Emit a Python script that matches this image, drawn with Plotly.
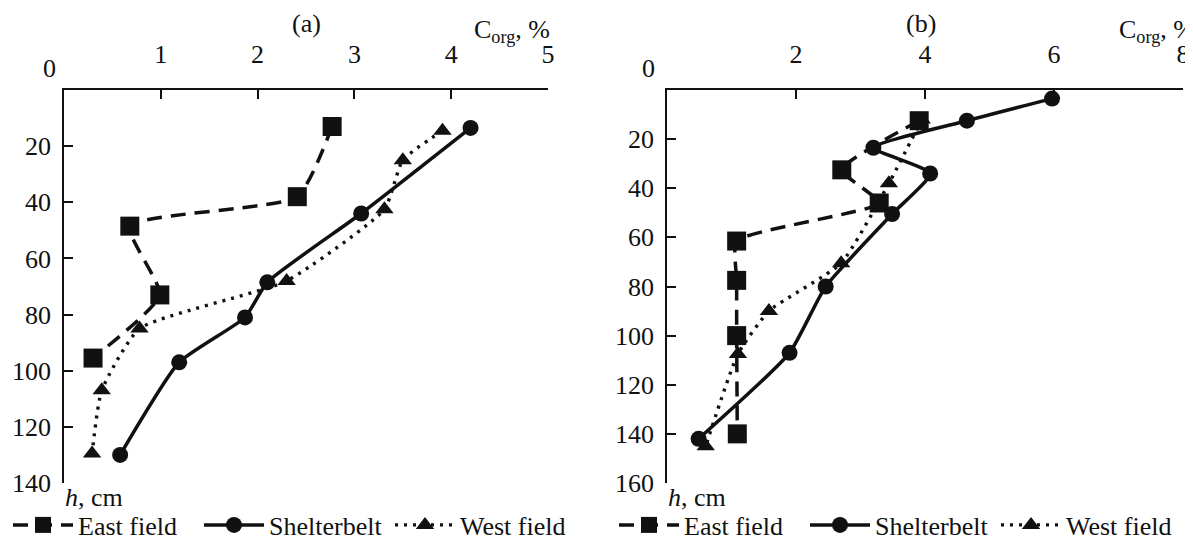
import plotly.graph_objects as go

# ---------------- data: panel (a) ----------------
a_east_x = [2.77, 2.41, 0.68, 0.99, 0.30]
a_east_y = [13, 38, 48.5, 73, 95.5]
a_shelter_x = [4.20, 3.07, 2.10, 1.87, 1.19, 0.58]
a_shelter_y = [13.5, 44, 68.5, 81, 97, 130]
a_west_x = [3.91, 3.50, 3.31, 2.30, 0.78, 0.39, 0.29]
a_west_y = [14.5, 25, 42.5, 68, 85, 107, 129.5]

# ---------------- data: panel (b) ----------------
b_east_x = [3.91, 2.71, 3.29, 1.08, 1.08, 1.08, 1.09]
b_east_y = [12.5, 32.5, 46, 61.5, 77.5, 100, 140]
b_shelter_x = [5.97, 4.65, 3.20, 4.08, 3.49, 2.46, 1.90, 0.49]
b_shelter_y = [3.5, 12.5, 23.5, 34, 50.5, 80, 107, 142]
b_west_x = [3.95, 3.44, 2.70, 1.58, 1.10, 0.60]
b_west_y = [12, 38, 70.5, 90, 107.5, 145]

a_xticks = [1, 2, 3, 4, 5]
b_xticks = [2, 4, 6, 8]
a_yticks = [20, 40, 60, 80, 100, 120, 140]
b_yticks = [20, 40, 60, 80, 100, 120, 140, 160]

names = ["East field", "Shelterbelt", "West field"]

INK = "#111111"
FONT = "Liberation Serif, Times New Roman, serif"
FS = 26
W, H = 1193, 539

styles = [
    dict(line=dict(color=INK, width=3.5, dash="15px,9px"),
         marker=dict(symbol="square", size=19, color=INK)),
    dict(line=dict(color=INK, width=3.5, dash="solid"),
         marker=dict(symbol="circle", size=16, color=INK)),
    dict(line=dict(color=INK, width=3.4, dash="3px,6px"),
         marker=dict(symbol="triangle-up", size=16, color=INK)),
]

fig = go.Figure()

panels = [
    ([a_east_x, a_shelter_x, a_west_x], [a_east_y, a_shelter_y, a_west_y], "x", "y", "legend"),
    ([b_east_x, b_shelter_x, b_west_x], [b_east_y, b_shelter_y, b_west_y], "x2", "y2", "legend2"),
]
for xs, ys, xa, ya, lg in panels:
    for i in range(3):
        fig.add_trace(go.Scatter(
            x=xs[i], y=ys[i], mode="lines+markers", name=names[i],
            xaxis=xa, yaxis=ya, legend=lg,
            line=dict(styles[i]["line"], shape="spline", smoothing=0.5),
            marker=styles[i]["marker"],
        ))

def px_x(p):
    return p / W

def px_y(p):
    return (H - p) / H

ydom = [px_y(475), px_y(82)]

axis_common = dict(
    showgrid=False, zeroline=False, showline=True, linecolor=INK, linewidth=1.5,
    ticks="inside", ticklen=9, tickwidth=1.5, tickcolor=INK,
    tickfont=dict(family=FONT, size=FS, color=INK),
)

leg_common = dict(orientation="h", xanchor="left", y=px_y(517), yanchor="middle",
                  font=dict(family=FONT, size=FS, color=INK), entrywidth=116, itemwidth=60,
                  bgcolor="rgba(0,0,0,0)", tracegroupgap=0)

fig.update_layout(
    width=W, height=H,
    margin=dict(l=0, r=0, t=0, b=0, autoexpand=False),
    paper_bgcolor="white", plot_bgcolor="white",
    font=dict(family=FONT, size=FS, color=INK),
    xaxis=dict(axis_common, domain=[px_x(56), px_x(540)], range=[0, 5], side="top",
               anchor="y", tickvals=a_xticks, ticklabelstandoff=15),
    yaxis=dict(axis_common, domain=ydom, range=[140, 0], anchor="x",
               tickvals=a_yticks, ticklabelstandoff=6),
    xaxis2=dict(axis_common, domain=[px_x(659), px_x(1175)], range=[0, 8], side="top",
                anchor="y2", tickvals=b_xticks, ticklabelstandoff=15),
    yaxis2=dict(axis_common, domain=ydom, range=[160, 0], anchor="x2",
                tickvals=b_yticks, ticklabelstandoff=6),
    legend=dict(leg_common, x=px_x(0)),
    legend2=dict(leg_common, x=px_x(606)),
    showlegend=True,
)

ann = []
for title, tx, cx, zx, hx in [("(a)", 298, 544, 41, 55), ("(b)", 913, 1189, 640, 658)]:
    ann.append(dict(text=title, x=px_x(tx), y=px_y(16), xref="paper", yref="paper",
                    showarrow=False, xanchor="center", yanchor="middle",
                    font=dict(family=FONT, size=FS, color=INK)))
    ann.append(dict(text="C<sub>org</sub>, %", x=px_x(cx), y=px_y(23), xref="paper", yref="paper",
                    showarrow=False, xanchor="right", yanchor="middle",
                    font=dict(family=FONT, size=FS, color=INK)))
    ann.append(dict(text="0", x=px_x(zx), y=px_y(61), xref="paper", yref="paper",
                    showarrow=False, xanchor="center", yanchor="middle",
                    font=dict(family=FONT, size=FS, color=INK)))
    ann.append(dict(text="<i>h</i>, cm", x=px_x(hx), y=px_y(489), xref="paper", yref="paper",
                    showarrow=False, xanchor="left", yanchor="middle",
                    font=dict(family=FONT, size=FS, color=INK)))
fig.update_layout(annotations=ann)

fig.write_html("out.html")
